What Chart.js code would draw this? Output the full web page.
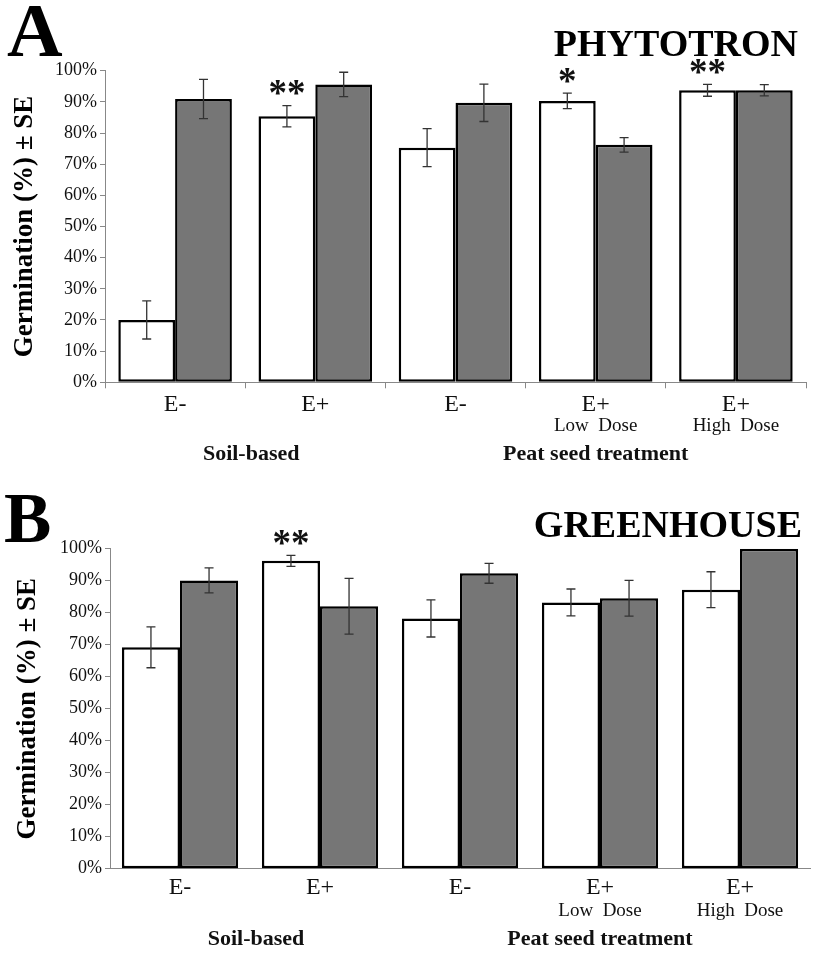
<!DOCTYPE html>
<html>
<head>
<meta charset="utf-8">
<script src="https://cdn.jsdelivr.net/npm/chart.js@4"></script>
<style>
  html, body { margin: 0; padding: 0; background: #fff; }
  .panel { position: absolute; left: 0; width: 813px; }
  #panelA { top: 0; height: 480px; }
  #panelB { top: 480px; height: 473px; }
</style>
</head>
<body>
<div class="panel" id="panelA"><canvas id="chartA"></canvas></div>
<div class="panel" id="panelB"><canvas id="chartB"></canvas></div>
<script>
// categories along the x axis
const categories = ['E-', 'E+', 'E-', 'E+', 'E+'];
const doseLabels = ['', '', '', 'Low Dose', 'High Dose'];
const groupLabels = ['Soil-based', 'Peat seed treatment'];
const yTickValues = [0, 10, 20, 30, 40, 50, 60, 70, 80, 90, 100];

// A - phytotron (germination %, SE)
const phytoWhite = [20, 85.4, 75.3, 90.3, 93.7];
const phytoWhiteSE = [6.1, 3.4, 6.1, 2.5, 1.9];
const phytoGrey = [90.9, 95.6, 89.7, 76.2, 93.7];
const phytoGreySE = [6.3, 3.9, 6.0, 2.3, 1.8];
const phytoStars = ['', '**', '', '*', '**'];

// B - greenhouse
const greenWhite = [69.2, 96.2, 78.2, 83.2, 87.2];
const greenWhiteSE = [6.4, 1.7, 5.8, 4.2, 5.6];
const greenGrey = [90.1, 82.0, 92.3, 84.5, 100];
const greenGreySE = [3.9, 8.7, 3.1, 5.6, 0];
const greenStars = ['', '**', '', '', ''];

const SERIF = "'Liberation Serif', 'Times New Roman', serif";
Chart.defaults.font.family = SERIF;
Chart.defaults.color = '#111';

// error bars, stars and extra labels
const extras = {
  id: 'extras',
  afterDatasetsDraw(chart, args, o) {
    const ctx = chart.ctx;
    const y = chart.scales.y;
    ctx.save();
    ctx.strokeStyle = '#333';
    ctx.lineWidth = 1.3;
    chart.data.datasets.forEach((ds, di) => {
      const meta = chart.getDatasetMeta(di);
      meta.data.forEach((bar, i) => {
        const e = ds.se[i];
        if (!e) return;
        const top = y.getPixelForValue(ds.data[i] + e);
        const bot = y.getPixelForValue(ds.data[i] - e);
        ctx.beginPath();
        ctx.moveTo(bar.x, top); ctx.lineTo(bar.x, bot);
        ctx.moveTo(bar.x - 4.5, top); ctx.lineTo(bar.x + 4.5, top);
        ctx.moveTo(bar.x - 4.5, bot); ctx.lineTo(bar.x + 4.5, bot);
        ctx.stroke();
      });
    });
    // significance stars over the white bars
    const ds0 = chart.data.datasets[0];
    const meta0 = chart.getDatasetMeta(0);
    ctx.fillStyle = '#111';
    ctx.font = 'bold 37px ' + SERIF;
    ctx.textAlign = 'center';
    ctx.textBaseline = 'middle';
    o.stars.forEach((s, i) => {
      if (!s) return;
      const top = y.getPixelForValue(ds0.data[i] + ds0.se[i]);
      ctx.fillText(s, meta0.data[i].x, top - 10);
    });
    ctx.restore();
  },
  afterDraw(chart, args, o) {
    const ctx = chart.ctx;
    const x = chart.scales.x;
    const bottom = chart.chartArea.bottom;
    ctx.save();
    ctx.fillStyle = '#111';
    ctx.textAlign = 'center';
    ctx.textBaseline = 'middle';
    ctx.font = '19px ' + SERIF;
    doseLabels.forEach((t, i) => {
      if (t) ctx.fillText(t.replace(' ', '  '), x.getPixelForTick(i), bottom + o.doseY);
    });
    ctx.font = 'bold 22px ' + SERIF;
    ctx.fillText(groupLabels[0], (x.getPixelForTick(0) + x.getPixelForTick(1)) / 2 + 6, bottom + o.groupY);
    ctx.fillText(groupLabels[1], x.getPixelForTick(3), bottom + o.groupY);
    // panel letter and title
    ctx.textBaseline = 'alphabetic';
    ctx.textAlign = 'left';
    ctx.font = 'bold ' + o.letterSize + 'px ' + SERIF;
    ctx.fillStyle = '#000';
    ctx.fillText(o.letter, o.letterX, o.letterY);
    ctx.textAlign = 'right';
    ctx.font = 'bold 38px ' + SERIF;
    ctx.fillText(o.title, o.titleX, o.titleY);
    ctx.restore();
  }
};

function makeChart(id, white, whiteSE, grey, greySE, p) {
  return new Chart(document.getElementById(id), {
    type: 'bar',
    data: {
      labels: categories,
      datasets: [
        { label: 'White bars', data: white, se: whiteSE, backgroundColor: '#ffffff',
          borderColor: '#000', borderWidth: 2.5, borderSkipped: false },
        { label: 'Grey bars', data: grey, se: greySE, backgroundColor: '#767676',
          borderColor: '#000', borderWidth: 2.5, borderSkipped: false }
      ]
    },
    options: {
      responsive: true,
      maintainAspectRatio: false,
      animation: false,
      categoryPercentage: p.catPct,
      barPercentage: 1.0,
      layout: { padding: { top: p.top, right: p.right, left: 0, bottom: 0 } },
      plugins: {
        legend: { display: false },
        tooltip: { enabled: false },
        extras: p
      },
      scales: {
        x: {
          afterFit: s => { s.height = p.xHeight; },
          border: { display: true, color: '#888', width: 1 },
          grid: { display: true, drawOnChartArea: false, drawTicks: p.xTicks, tickLength: 6, color: '#888', offset: true },
          ticks: { font: { size: 24 }, color: '#111', padding: p.xPad, maxRotation: 0, autoSkip: false }
        },
        y: {
          min: 0, max: 100,
          afterFit: s => { s.width = p.left; },
          afterBuildTicks: s => { s.ticks = yTickValues.map(v => ({ value: v })); },
          border: { display: true, color: '#888', width: 1 },
          grid: { display: true, drawOnChartArea: false, drawTicks: true, tickLength: 5, color: '#888' },
          ticks: { font: { size: 18 }, color: '#111', padding: 3, callback: v => v + '%' },
          title: { display: true, text: 'Germination (%) \u00b1 SE', font: { size: 27, weight: 'bold' },
                   color: '#000', padding: { top: p.titlePad, bottom: 0 } }
        }
      }
    },
    plugins: [extras]
  });
}

makeChart('chartA', phytoWhite, phytoWhiteSE, phytoGrey, phytoGreySE, {
  top: 70.7, right: 7, left: 105, xHeight: 97.7, xTicks: true, xPad: 2, catPct: 0.81,
  titlePad: 9, doseY: 43.4, groupY: 71.7, stars: phytoStars,
  letter: 'A', letterSize: 77, letterX: 7, letterY: 56,
  title: 'PHYTOTRON', titleX: 798, titleY: 56
});

makeChart('chartB', greenWhite, greenWhiteSE, greenGrey, greenGreySE, {
  top: 68.7, right: 3, left: 110, xHeight: 84.3, xTicks: false, xPad: 5, catPct: 0.83,
  titlePad: 12, doseY: 42.3, groupY: 70.3, stars: greenStars,
  letter: 'B', letterSize: 71, letterX: 4, letterY: 62,
  title: 'GREENHOUSE', titleX: 802, titleY: 57
});
</script>
</body>
</html>
